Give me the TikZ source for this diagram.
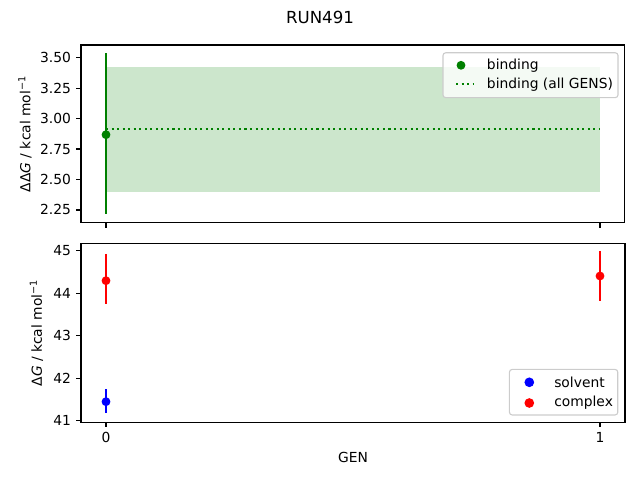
\documentclass[tikz,border=0pt]{standalone}
\usepackage{fontspec}
\setmainfont{DejaVu Sans}
\definecolor{mplgreen}{RGB}{0,128,0}
\definecolor{mplband}{RGB}{204,230,204}
\definecolor{legframe}{RGB}{204,204,204}
\tikzset{
  spine/.style={line width=0.8pt, black},
  tickmark/.style={line width=0.8pt, black},
  ticklabel/.style={font=\fontsize{10}{12}\selectfont, inner sep=0pt},
  errbar/.style={line width=1.5pt},
  dotmark/.style={circle, inner sep=0pt, minimum size=6.4pt},
  scatmark/.style={circle, inner sep=0pt, minimum size=7pt},
  legbox/.style={draw=legframe, line width=0.8pt, rounded corners=2pt, fill=white, fill opacity=0.8},
  legtext/.style={font=\fontsize{10}{12}\selectfont, anchor=west, inner sep=0pt}
}
\begin{document}
\begin{tikzpicture}[x=0.01in, y=-0.01in]
\useasboundingbox (0,0) rectangle (640,480);

% Title
\node (title) [font=\fontsize{12}{14}\selectfont] at (320,17) {RUN491};

% Top axes: binding
\fill [mplband] (106,67.3) rectangle (600,191.7);%
\draw [mplgreen, errbar, dash pattern=on 1.5pt off 2.5pt] (106,129) -- (600,129);%

% Errorbar binding GEN 0
\coordinate (bindhi) at (106,53.3);
\coordinate (bindlo) at (106,214.3);
\draw [mplgreen, errbar] (bindhi) -- (bindlo);%
\node (bind0) [dotmark, fill=mplgreen] at (106,134.7) {};%

\draw [spine] (81,45) rectangle (624.5,222.7);%

% y ticks top
\foreach \yy/\lab/\n in {57.7/3.50/a, 88.15/3.25/b, 118.6/3.00/c, 149.05/2.75/d, 179.5/2.50/e, 209.95/2.25/f}{
  \draw [tickmark] (81,\yy) -- (76.1,\yy);
  \node (ytop\n) [ticklabel, anchor=east] at (71.2,\yy) {\lab};
}
% x ticks top (no labels)
\draw [tickmark] (106,222.7) -- (106,227.6);%
\draw [tickmark] (600,222.7) -- (600,227.6);%

\node (ylabtop) [ticklabel, rotate=90] at (25,134) {ΔΔ\textit{G} / kcal mol\textsuperscript{−1}};

% Legend top
\node (legtop) [legbox, minimum width=175.6*0.72pt, minimum height=45*0.72pt, inner sep=0pt] at (530.5,75.2) {};
\node (legbindmark) [dotmark, fill=mplgreen] at (461,65.3) {};
\node (legbindtext) [legtext] at (486.7,65.3) {binding};
\coordinate (legdotsA) at (456,84.3);
\coordinate (legdotsB) at (474,84.3);
\draw [mplgreen, errbar, dash pattern=on 1.5pt off 2.5pt] (legdotsA) -- (legdotsB);%
\node (legalltext) [legtext] at (486.7,84.3) {binding (all GENS)};

% Bottom axes: solvent and complex
% Errorbar complex GEN 0
\coordinate (cplxAhi) at (106,254);
\coordinate (cplxAlo) at (106,304.3);
\draw [red, errbar] (cplxAhi) -- (cplxAlo);%
\node (cplx0) [dotmark, fill=red] at (106,280.7) {};%

% Errorbar complex GEN 1
\coordinate (cplxBhi) at (600,251);
\coordinate (cplxBlo) at (600,300.7);
\draw [red, errbar] (cplxBhi) -- (cplxBlo);%
\node (cplx1) [dotmark, fill=red] at (600,276) {};%

% Errorbar solvent GEN 0
\coordinate (solvhi) at (106,389.3);
\coordinate (solvlo) at (106,413.3);
\draw [blue, errbar] (solvhi) -- (solvlo);%
\node (solv0) [dotmark, fill=blue] at (106,401.7) {};%

\draw [spine] (81,243.7) rectangle (625,422.3);%

% y ticks bottom
\foreach \yy/\lab/\n in {250.7/45/a, 293.2/44/b, 335.7/43/c, 378.2/42/d, 420.7/41/e}{
  \draw [tickmark] (81,\yy) -- (76.1,\yy);
  \node (ybot\n) [ticklabel, anchor=east] at (71.2,\yy) {\lab};
}
% x ticks bottom
\draw [tickmark] (106,422.3) -- (106,427.2);%
\node (xtick0) [ticklabel, anchor=north] at (106,432) {0};
\draw [tickmark] (600,422.3) -- (600,427.2);%
\node (xtick1) [ticklabel, anchor=north] at (600,432) {1};

\node (ylabbot) [ticklabel, rotate=90] at (36.5,333) {Δ\textit{G} / kcal mol\textsuperscript{−1}};
\node (xlab) [ticklabel] at (353,457) {GEN};

% Legend bottom
\node (legbot) [legbox, minimum width=108.7*0.72pt, minimum height=45.7*0.72pt, inner sep=0pt] at (563.6,392.2) {};
\node (legsolvmark) [scatmark, fill=blue] at (529.3,382.3) {};
\node (legsolvtext) [legtext] at (554,382.3) {solvent};
\node (legcplxmark) [scatmark, fill=red] at (529.3,403) {};
\node (legcplxtext) [legtext] at (554,403) {complex};
\end{tikzpicture}
\end{document}
